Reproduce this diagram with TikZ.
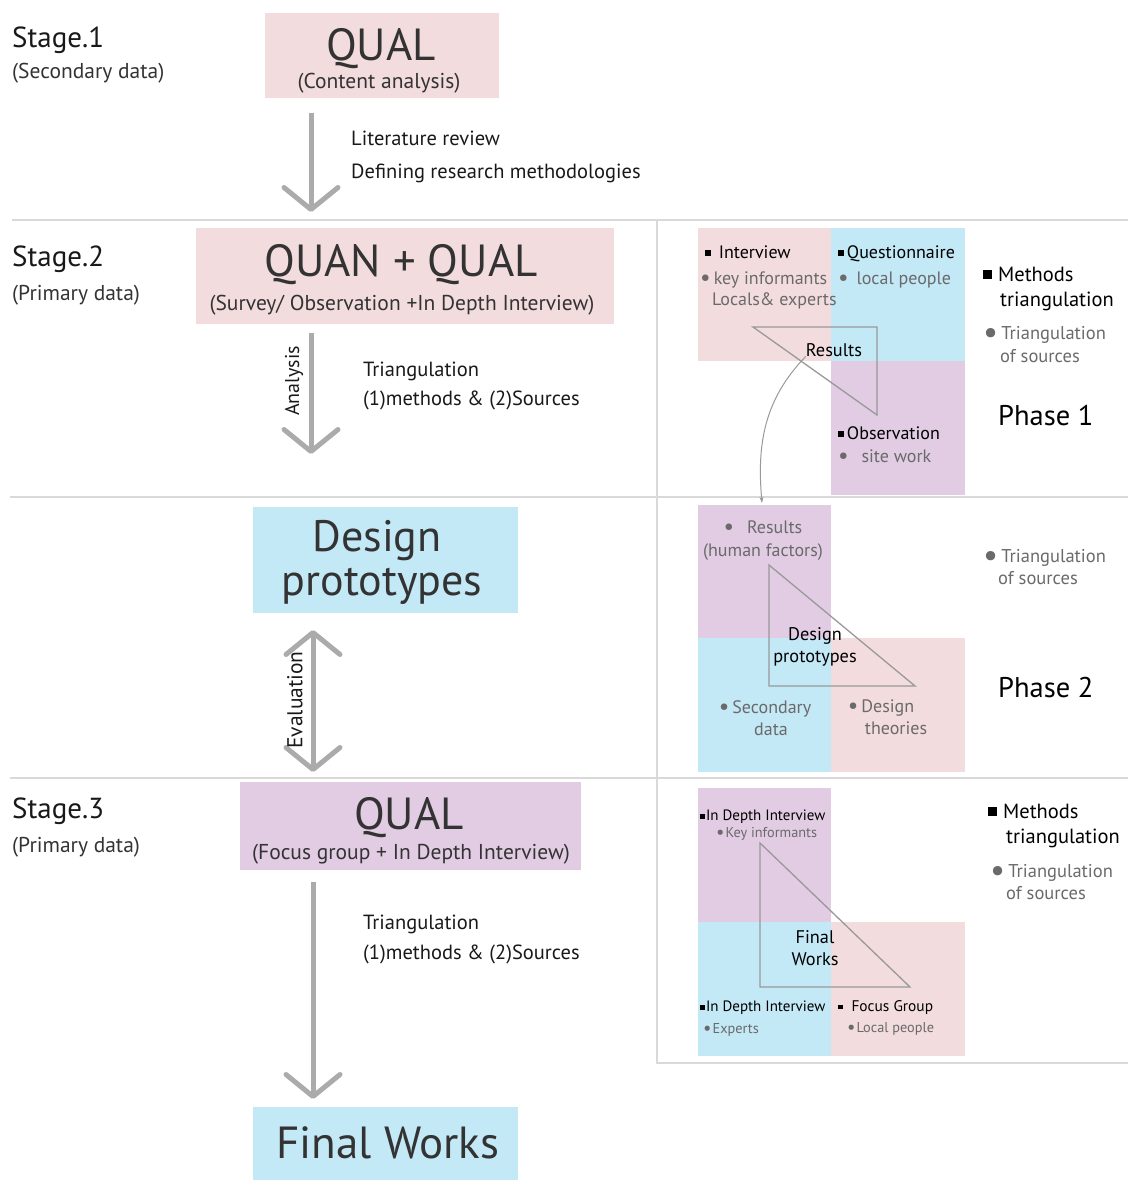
\documentclass[tikz,border=0pt]{standalone}
\usepackage{fontspec}
\setmainfont{PT Sans}
\usetikzlibrary{arrows.meta,positioning}
\definecolor{qualpink}{HTML}{F3DCDD}
\definecolor{quanblue}{HTML}{C3E8F6}
\definecolor{focuspurp}{HTML}{E2CCE3}
\definecolor{boxtext}{HTML}{333333}
\definecolor{srcgray}{HTML}{6A6A6A}
\definecolor{arrowgray}{HTML}{ABABAB}
\definecolor{rulegray}{HTML}{D9D9D9}
\definecolor{trigray}{HTML}{999999}
\newcommand{\msq}[1][0.32em]{\rule[0.1em]{#1}{#1}}
\newcommand{\sdot}[2][1.3]{\textcolor{srcgray}{\raisebox{#2}{\scalebox{#1}{\textbullet}}}}
\newcommand{\fs}[1]{\fontsize{#1}{#1}\selectfont}

\begin{document}
\begin{tikzpicture}[
  x=1pt, y=-1pt,
  stagebox/.style={inner sep=0pt, outer sep=0pt},
  bigtxt/.style={anchor=base, inner sep=0pt, text=boxtext, font=\fs{45}},
  subtxt/.style={anchor=base, inner sep=0pt, text=boxtext, font=\fs{21.5}},
  stagetxt/.style={anchor=base west, inner sep=0pt, text=black!90, font=\fs{29}},
  stagesub/.style={anchor=base west, inner sep=0pt, text=boxtext, font=\fs{21.5}},
  note/.style={anchor=base west, inner sep=0pt, text=black!90, font=\fs{20.5}},
  flow/.style={draw=arrowgray, line width=5pt, -{Straight Barb[length=22pt,width=54pt,round]}},
  both/.style={draw=arrowgray, line width=5pt, {Straight Barb[length=22pt,width=54pt,round]}-{Straight Barb[length=22pt,width=54pt,round]}},
  sidetxt/.style={inner sep=0pt, rotate=90, text=black!90, font=\fs{20}},
  meth/.style={anchor=base west, inner sep=0pt, text=black, font=\fs{18}},
  src/.style={anchor=base west, inner sep=0pt, text=srcgray, font=\fs{18}},
  midtxt/.style={anchor=base, inner sep=0pt, text=black, font=\fs{18.3}},
  legm/.style={anchor=base west, inner sep=0pt, text=black, font=\fs{20.5}},
  legs/.style={anchor=base west, inner sep=0pt, text=srcgray, font=\fs{18.5}},
  phase/.style={anchor=base west, inner sep=0pt, text=black, font=\fs{28.5}},
  tri/.style={draw=trigray, line width=1.3pt, line join=miter},
  sep/.style={draw=rulegray, line width=1.8pt},
]
\useasboundingbox (0,0) rectangle (1128,1180);

% separators between the stages
\draw[sep] (12,220) -- (1128,220);
\draw[sep] (10,497) -- (1128,497);
\draw[sep] (10,778) -- (1128,778);
\draw[sep] (657,220) -- (657,1063) -- (1128,1063);

% ---------------- left column: stages ----------------
\node[stagetxt] (s1) at (12,48) {Stage.1};
\node[stagesub] (s1d) at (12,79) {(Secondary data)};
\node[stagetxt] (s2) at (12,266) {Stage.2};
\node[stagesub] (s2d) at (12,300) {(Primary data)};
\node[stagetxt] (s3) at (12,818) {Stage.3};
\node[stagesub] (s3d) at (12,852) {(Primary data)};

% boxes of the flow
\node[stagebox, fill=qualpink, minimum width=234pt, minimum height=85pt] (qual1) at (382,55.5) {};
\node[bigtxt] (qual1t) at (381,61) {QUAL};
\node[subtxt] (qual1s) at (379,89) {(Content analysis)};

\node[stagebox, fill=qualpink, minimum width=418pt, minimum height=96pt] (quan) at (405,276) {};
\node[bigtxt] (quant) at (401,276) {QUAN + QUAL};
\node[subtxt] (quans) at (402,310) {(Survey/ Observation +In Depth Interview)};

\node[stagebox, fill=quanblue, minimum width=265pt, minimum height=106pt] (design) at (385.5,560) {};
\node[bigtxt, font=\fs{44}] (design1) at (377,551) {Design};
\node[bigtxt, font=\fs{44}] (design2) at (382,595) {prototypes};

\node[stagebox, fill=focuspurp, minimum width=341pt, minimum height=88pt] (qual3) at (410.5,826) {};
\node[bigtxt] (qual3t) at (409,829) {QUAL};
\node[subtxt] (qual3s) at (411,859) {(Focus group + In Depth Interview)};

\node[stagebox, fill=quanblue, minimum width=265pt, minimum height=73pt] (final) at (385.5,1143.5) {};
\node[bigtxt] (finalt) at (388,1158) {Final Works};

% arrows between the boxes
\coordinate (a1s) at (311,113);  \coordinate (a1e) at (311,212);
\coordinate (a2s) at (311,333);  \coordinate (a2e) at (311,454);
\coordinate (evs) at (313,630);  \coordinate (eve) at (313,772);
\coordinate (a3s) at (313,882);  \coordinate (a3e) at (313,1099);
\draw[flow] (a1s) -- (a1e);
\draw[flow] (a2s) -- (a2e);
\draw[both] (evs) -- (eve);
\draw[flow] (a3s) -- (a3e);
\node[sidetxt] (analysis) at (294,381) {Analysis};
\node[sidetxt, font=\fs{21.5}] (evaluation) at (295,700) {Evaluation};

\node[note] (lit) at (351,146) {Literature review};
\node[note] (defm) at (351,178) {Defining research methodologies};
\node[note] (tri2a) at (363,376) {Triangulation};
\node[note] (tri2b) at (363,405) {(1)methods \& (2)Sources};
\node[note] (tri3a) at (363,929) {Triangulation};
\node[note] (tri3b) at (363,959) {(1)methods \& (2)Sources};

% ---------------- right column: phase 1 ----------------
\fill[qualpink] (698,228) rectangle (831,361);
\fill[quanblue] (831,228) rectangle (965,361);
\fill[focuspurp] (831,361) rectangle (965,495);
\coordinate (p1a) at (753,327);
\coordinate (p1b) at (877,327);
\coordinate (p1c) at (877,415);
\draw[tri] (p1a) -- (p1b) -- (p1c) -- cycle;
\node[midtxt] (res1) at (834,356) {Results};

\node[meth] (intv) at (705,258) {\msq\, Interview};
\node[src] (keyinf) at (700,284) {\sdot{-0.08em}\,key informants};
\node[src] (locexp) at (712,305) {Locals\& experts};
\node[meth] (quest) at (838,258) {\msq\,Questionnaire};
\node[src] (locpeo) at (838,284) {\sdot{-0.08em}\, local people};
\node[meth] (obs) at (838,439) {\msq\,Observation};
\node[src] (site) at (838,462) {\sdot{-0.08em}\;\, site work};

\node[legm] (m1a) at (983,281) {\msq[0.45em]\;Methods};
\node[legm] (m1b) at (1000,306) {triangulation};
\node[legs] (t1a) at (983,339) {\sdot[1.8]{-0.25em}\,Triangulation};
\node[legs] (t1b) at (1000,362) {of sources};
\node[phase] (ph1) at (998,425) {Phase 1};

% results feed the prototypes
\coordinate (p2in) at (762,503);
\draw[draw=trigray, line width=1pt, -{Stealth[length=6pt,width=4pt]}]
  (res1.south west) to[out=226,in=95] (p2in);

% ---------------- right column: phase 2 ----------------
\fill[focuspurp] (698,505) rectangle (831,638);
\fill[quanblue] (698,638) rectangle (831,772);
\fill[qualpink] (831,638) rectangle (965,772);
\coordinate (p2a) at (769,565);
\coordinate (p2b) at (769,686);
\coordinate (p2c) at (915,686);
\draw[tri] (p2a) -- (p2b) -- (p2c) -- cycle;
\node[midtxt] (dp1) at (815,640) {Design};
\node[midtxt] (dp2) at (815,662) {prototypes};

\node[src, anchor=base] (hres) at (763,533) {\sdot{-0.08em}\;\, Results};
\node[src, anchor=base] (hfac) at (763,556) {(human factors)};
\node[src, anchor=base] (sec1) at (765,713) {\sdot{-0.08em}\,Secondary};
\node[src, anchor=base] (sec2) at (771,735) {data};
\node[src, anchor=base] (dth1) at (881,712) {\sdot{-0.08em}\,Design};
\node[src, anchor=base] (dth2) at (896,734) {theories};

\node[legs] (t2a) at (983,562) {\sdot[1.8]{-0.25em}\,Triangulation};
\node[legs] (t2b) at (998,584) {of sources};
\node[phase] (ph2) at (998,697) {Phase 2};

% ---------------- right column: stage 3 ----------------
\fill[focuspurp] (698,788) rectangle (831,922);
\fill[quanblue] (698,922) rectangle (831,1056);
\fill[qualpink] (831,922) rectangle (965,1056);
\coordinate (p3a) at (760,843);
\coordinate (p3b) at (760,987);
\coordinate (p3c) at (910,987);
\draw[tri] (p3a) -- (p3b) -- (p3c) -- cycle;
\node[midtxt] (fw1) at (815,943) {Final};
\node[midtxt] (fw2) at (815,965) {Works};

\node[meth, font=\fs{15}] (idi1) at (700,820) {\msq\hspace{1pt}In Depth Interview};
\node[src, font=\fs{14.3}] (keyi) at (716,837) {\sdot{-0.08em}\hspace{1pt}Key informants};
\node[meth, font=\fs{15}] (idi2) at (700,1011) {\msq\hspace{1pt}In Depth Interview};
\node[src, font=\fs{14.3}] (expt) at (703,1033) {\sdot{-0.08em}\hspace{1pt}Experts};
\node[meth, font=\fs{15.4}] (focg) at (838,1011) {\msq\; Focus Group};
\node[src, font=\fs{14.3}] (locp) at (847,1032) {\sdot{-0.08em}\hspace{1pt}Local people};

\node[legm] (m3a) at (988,818) {\msq[0.45em]\;Methods};
\node[legm] (m3b) at (1006,843) {triangulation};
\node[legs] (t3a) at (990,877) {\sdot[1.8]{-0.25em}\,Triangulation};
\node[legs] (t3b) at (1006,899) {of sources};
\end{tikzpicture}
\end{document}
